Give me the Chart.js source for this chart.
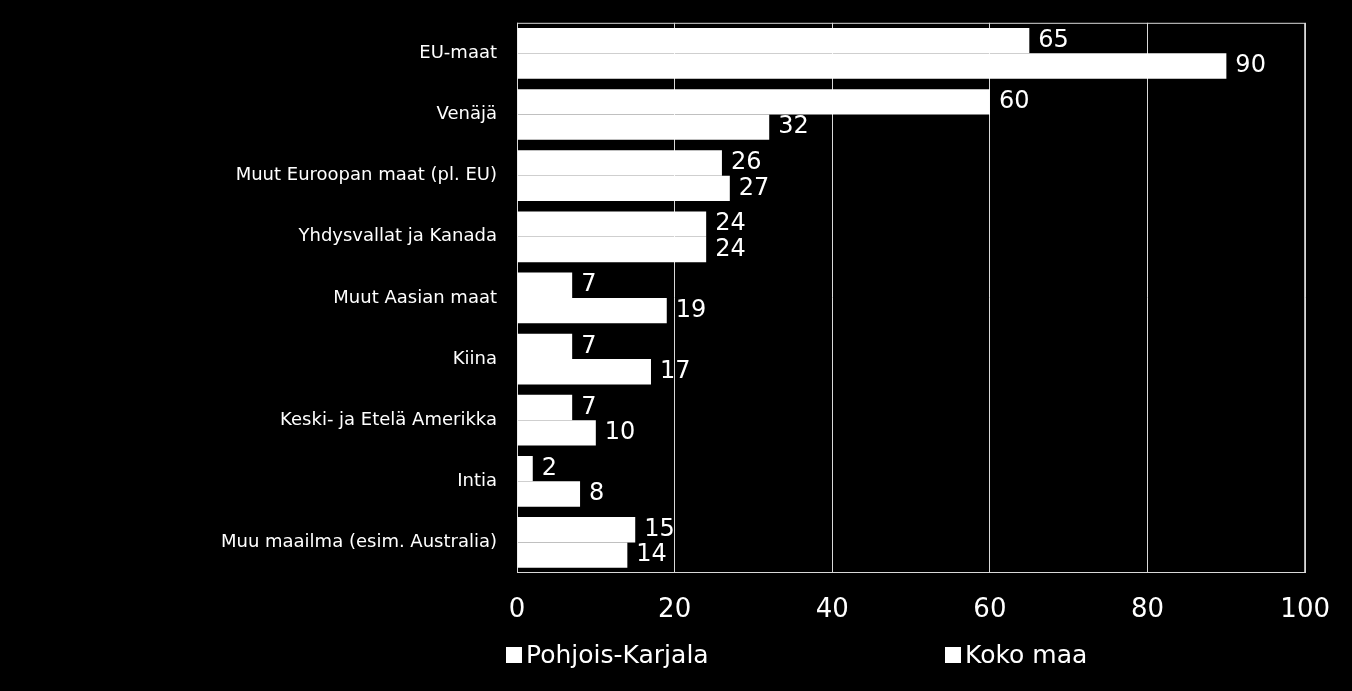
<!DOCTYPE html>
<html><head><meta charset="utf-8">
<script src="https://cdn.jsdelivr.net/npm/chart.js@4/dist/chart.umd.min.js"></script>
<style>
html,body{margin:0;padding:0;background:#000;width:1352px;height:691px;overflow:hidden;font-family:"DejaVu Sans",sans-serif;}
#wrap{position:absolute;left:0;top:0;width:1352px;height:691px;}
.leg{position:absolute;top:640px;color:#fff;font-size:25px;font-family:"DejaVu Sans",sans-serif;display:flex;align-items:center;}
.leg span.sq{display:inline-block;width:16px;height:16px;background:#fff;margin-right:4px;}
</style></head><body>
<div id="wrap"><canvas id="c" width="1352" height="691"></canvas></div>
<div class="leg" style="left:506px"><span class="sq"></span>Pohjois-Karjala</div>
<div class="leg" style="left:945px"><span class="sq"></span>Koko maa</div>
<script>
const categories=["EU-maat","Venäjä","Muut Euroopan maat (pl. EU)","Yhdysvallat ja Kanada","Muut Aasian maat","Kiina","Keski- ja Etelä Amerikka","Intia","Muu maailma (esim. Australia)"];
const pohjoisKarjala=[65,60,26,24,7,7,7,2,15];
const kokoMaa=[90,32,27,24,19,17,10,8,14];
const seriesNames=["Pohjois-Karjala","Koko maa"];
const xTicks=[0,20,40,60,80,100];

const labelPlugin={id:'lbl',afterDatasetsDraw(chart){
  const ctx=chart.ctx;ctx.save();ctx.fillStyle='#fff';ctx.font='24px "DejaVu Sans", sans-serif';
  ctx.textBaseline='middle';ctx.textAlign='left';
  chart.data.datasets.forEach((ds,i)=>{chart.getDatasetMeta(i).data.forEach((bar,j)=>{
    ctx.fillText(String(ds.data[j]),bar.x+9,bar.y);});});
  ctx.restore();}};
const borderPlugin={id:'bd',beforeDatasetsDraw(chart){
  const a=chart.chartArea,ctx=chart.ctx;ctx.save();ctx.strokeStyle='#d9d9d9';ctx.lineWidth=1;
  ctx.strokeRect(a.left+0.5,a.top+0.5,a.right-a.left-1,a.bottom-a.top-1);ctx.restore();}};

new Chart(document.getElementById('c'),{
  type:'bar',
  data:{labels:categories,datasets:[
    {label:seriesNames[0],data:pohjoisKarjala,backgroundColor:'#fff',borderWidth:0},
    {label:seriesNames[1],data:kokoMaa,backgroundColor:'#fff',borderWidth:0}]},
  options:{indexAxis:'y',responsive:false,animation:false,devicePixelRatio:1,
    layout:{padding:{top:-19,right:45,bottom:58,left:0}},
    datasets:{bar:{categoryPercentage:0.83,barPercentage:1}},
    plugins:{legend:{display:false},tooltip:{enabled:false}},
    scales:{
      x:{min:0,max:100,afterBuildTicks(s){s.ticks=xTicks.map(v=>({value:v}));},
        afterFit(s){s.height=60;},
        grid:{color:'#d9d9d9',lineWidth:1,drawTicks:false},border:{display:false},
        ticks:{color:'#fff',padding:22,font:{size:26,family:'"DejaVu Sans", sans-serif'}}},
      y:{afterFit(s){s.width=517;},grid:{display:false},border:{display:false},
        ticks:{color:'#fff',padding:12,font:{size:18,family:'"DejaVu Sans", sans-serif'}}}
    }},
  plugins:[borderPlugin,labelPlugin]
});
</script></body></html>
